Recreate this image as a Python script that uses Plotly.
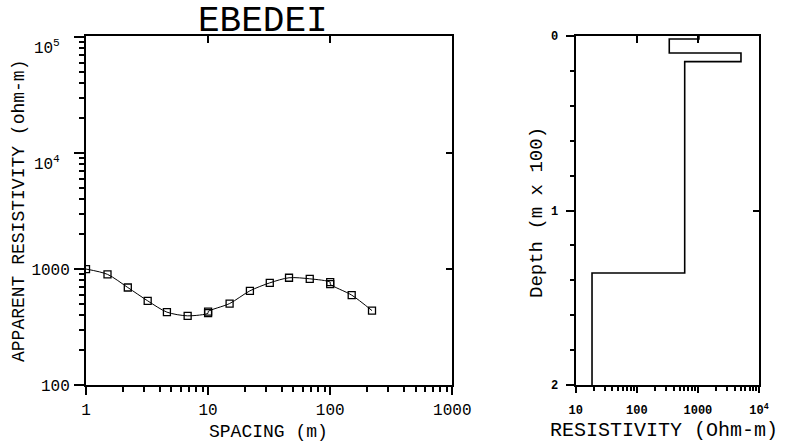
import plotly.graph_objects as go

# ---------------- data ----------------
spacing = [1, 1.5, 2.2, 3.2, 4.6, 6.8, 10, 10, 15, 22, 32, 46, 68, 100, 100, 150, 220]
app_res = [1000, 900, 693, 532, 425, 395, 416, 430, 504, 649, 760, 841, 824, 771, 741, 596, 438]

layer_res = [1040, 340, 5070, 608, 18.5]
layer_top = [0, 0.017, 0.097, 0.147, 1.358]
max_depth = 2.0

left_x_ticks = [1, 10, 100, 1000]
left_x_text = ["1", "10", "100", "1000"]
left_y_ticks = [100, 1000, 10000, 100000]
left_y_text = ["100", "1000", "", ""]
left_y_sup_ticks = [10000, 100000]
left_y_sup_text = ["10<sup>4</sup>", "10<sup>5</sup>"]

right_x_ticks = [10, 100, 1000, 10000]
right_x_text = ["10", "100", "1000", "10<sup>4</sup>"]
right_y_ticks = [0, 1, 2]
right_y_text = ["0", "1", "2"]

FONT = "Liberation Mono"
W, H = 787, 442

# domains (pixel -> paper)
xl = [86 / W, 452.3 / W]
xr = [575.7 / W, 759 / W]
yd = [(H - 385) / H, (H - 36) / H]


def log_minors(d0, d1):
    return [m * 10 ** d for d in range(d0, d1) for m in range(2, 10)]


fig = go.Figure()
fig.add_trace(go.Scatter(
    x=spacing, y=app_res, mode="lines+markers",
    line=dict(color="black", width=1, shape="spline", smoothing=0.8),
    marker=dict(symbol="square-open", size=7, color="black", line=dict(width=1.3)),
    xaxis="x", yaxis="y", hoverinfo="skip"))

model_x = layer_res + [layer_res[-1]]
model_y = layer_top + [max_depth]
fig.add_trace(go.Scatter(
    x=model_x, y=model_y, mode="lines",
    line=dict(color="black", width=1.6, shape="vh"),
    xaxis="x3", yaxis="y3", hoverinfo="skip"))

# invisible traces so that the overlay (frame) axes are drawn
for xa, ya, xs, ys in [("x2", "y2", spacing, app_res), ("x", "y5", spacing, app_res),
                       ("x4", "y4", model_x, model_y)]:
    fig.add_trace(go.Scatter(x=xs, y=ys, mode="markers", xaxis=xa, yaxis=ya,
                             marker=dict(size=1, opacity=0), hoverinfo="skip"))

common = dict(showgrid=False, zeroline=False, linecolor="black", tickcolor="black",
              tickwidth=1.5, automargin=False)
tfl = dict(family=FONT, size=16, color="black")
tfr = dict(family=FONT, size=12, color="black", weight="bold")

fig.update_layout(
    width=W, height=H, margin=dict(l=0, r=0, t=0, b=0, autoexpand=False),
    paper_bgcolor="white", plot_bgcolor="white", showlegend=False,
    xaxis=dict(type="log", range=[0, 3], domain=xl, anchor="y",
               tickmode="array", tickvals=left_x_ticks, ticktext=left_x_text,
               ticks="outside", ticklen=8, showline=True, linewidth=2,
               tickfont=tfl, ticklabelstandoff=1,
               minor=dict(tickvals=log_minors(0, 3), ticks="outside", ticklen=5,
                          tickwidth=1.5, tickcolor="black", showgrid=False),
               **common),
    xaxis2=dict(type="log", range=[0, 3], overlaying="x", side="top", anchor="y2",
                tickmode="array", tickvals=[10, 100], ticks="inside", ticklen=7,
                showticklabels=False, showline=True, linewidth=2, **common),
    yaxis=dict(type="log", range=[2, 5.01], domain=yd, anchor="x",
               tickmode="array", tickvals=left_y_ticks, ticktext=left_y_text,
               ticks="outside", ticklen=10, showline=True, linewidth=2,
               tickfont=tfl, ticklabelstandoff=1,
               minor=dict(tickvals=log_minors(2, 5), ticks="outside", ticklen=5,
                          tickwidth=1.5, tickcolor="black", showgrid=False),
               **common),
    yaxis2=dict(type="log", range=[2, 5.01], overlaying="y", side="right", anchor="x2",
                tickmode="array", tickvals=[1000, 10000], ticks="inside", ticklen=6,
                showticklabels=False, showline=True, linewidth=2, **common),
    yaxis5=dict(type="log", range=[2, 5.01], overlaying="y", side="left", anchor="x",
                tickmode="array", tickvals=left_y_sup_ticks, ticktext=left_y_sup_text,
                ticks="outside", ticklen=10, showline=False, tickfont=tfl,
                ticklabelshift=10, ticklabelstandoff=12,
                showgrid=False, zeroline=False, tickcolor="rgba(0,0,0,0)",
                automargin=False),
    xaxis3=dict(type="log", range=[1, 4], domain=xr, anchor="y3",
                tickmode="array", tickvals=right_x_ticks, ticktext=right_x_text,
                ticks="outside", ticklen=6, showline=True, linewidth=2,
                tickfont=tfr, ticklabelstandoff=7,
                minor=dict(tickvals=log_minors(1, 4), ticks="outside", ticklen=4,
                           tickwidth=1.5, tickcolor="black", showgrid=False),
                **common),
    xaxis4=dict(type="log", range=[1, 4], overlaying="x3", side="top", anchor="y4",
                tickmode="array", tickvals=[100, 1000], ticks="inside", ticklen=7,
                showticklabels=False, showline=True, linewidth=2, **common),
    yaxis3=dict(range=[max_depth, 0], domain=yd, anchor="x3",
                tickmode="array", tickvals=right_y_ticks, ticktext=right_y_text,
                ticks="outside", ticklen=8, showline=True, linewidth=2,
                tickfont=tfr, ticklabelstandoff=5,
                minor=dict(tickvals=[0.2, 0.4, 0.6, 0.8, 1.2, 1.4, 1.6, 1.8],
                           ticks="outside", ticklen=4, tickwidth=1.5,
                           tickcolor="black", showgrid=False),
                **common),
    yaxis4=dict(range=[max_depth, 0], overlaying="y3", side="right", anchor="x4",
                tickmode="array", tickvals=[1], ticks="inside", ticklen=6,
                showticklabels=False, showline=True, linewidth=2, **common),
)

ann = dict(xref="paper", yref="paper", showarrow=False, xanchor="center",
           yanchor="middle")
ann_font = dict(family=FONT, color="black")
fig.add_annotation(text="EBEDEI", x=263 / W, y=(H - 21) / H,
                   font=dict(size=36, **ann_font), **ann)
fig.add_annotation(text="SPACING (m)", x=268 / W, y=(H - 432) / H,
                   font=dict(size=18, **ann_font), **ann)
fig.add_annotation(text="APPARENT RESISTIVITY (ohm-m)", x=19 / W, y=(H - 211) / H,
                   textangle=-90, font=dict(size=18, **ann_font), **ann)
fig.add_annotation(text="Depth (m x 100)", x=537 / W, y=(H - 213) / H,
                   textangle=-90, font=dict(size=19, **ann_font), **ann)
fig.add_annotation(text="RESISTIVITY (Ohm-m)", x=664 / W, y=(H - 430) / H,
                   font=dict(size=20, **ann_font), **ann)

# remove the browser's default body margin so the figure sits at the page origin
fig.write_html("out.html", config={"displayModeBar": False},
               post_script="document.body.style.margin='0px';")
